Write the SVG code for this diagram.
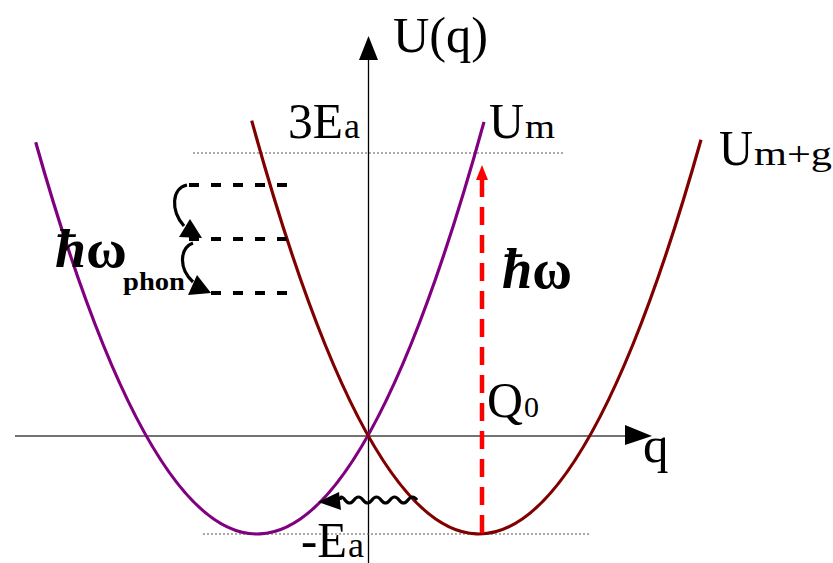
<svg xmlns="http://www.w3.org/2000/svg" width="833" height="563" viewBox="0 0 833 563">
<defs>
<style>
.t{font-family:"Liberation Serif","Times New Roman",serif;fill:#000}
.big{font-size:51px}
.sub{font-size:34px}
.dot{stroke:#555;stroke-width:1;stroke-dasharray:2,2;fill:none}
.lvl{stroke:#000;stroke-width:4;stroke-dasharray:10,12;fill:none}
.crv{stroke-width:3.2;fill:none}
.hb{font-weight:bold;font-style:italic}
.om{font-style:normal}
</style>
</defs>
<rect width="833" height="563" fill="#fff"/>
<g id="axes">
<line x1="15" y1="436" x2="628" y2="436" stroke="#444" stroke-width="1.3"/>
<polygon points="625,425 652,436 625,445" fill="#000"/>
<line x1="368.5" y1="563" x2="368.5" y2="58" stroke="#000" stroke-width="1.3"/>
<polygon points="359,60 368.5,36 378,60" fill="#000"/>
</g>
<g id="guides">
<line class="dot" x1="193" y1="153" x2="565" y2="153"/>
<line class="dot" x1="203" y1="534" x2="590" y2="534"/>
</g>
<g id="curve-Um">
<path class="crv" stroke="#800080" d="M35.7,142.2 Q259.85,935.9 484,121.8"/>
</g>
<g id="curve-Umg">
<path class="crv" stroke="#800000" d="M251.7,120.7 Q476.35,937.7 701,139.7"/>
</g>
<g id="levels">
<line class="lvl" x1="189" y1="185" x2="287" y2="185"/>
<line class="lvl" x1="189" y1="239" x2="287" y2="239"/>
<line class="lvl" x1="211" y1="293" x2="287" y2="293"/>
</g>
<g id="connectors">
<path class="crv" stroke="#000" d="M187,185 C172,188 170,210 184,226"/>
<polygon points="179,237 190,219 202,238" fill="#000"/>
<path class="crv" stroke="#000" d="M193,243 C180,248 178,268 193,282"/>
<polygon points="188,295 197,275 211,293" fill="#000"/>
<line x1="482" y1="533" x2="482" y2="178" stroke="#ff0000" stroke-width="4.5" stroke-dasharray="18,10"/>
<polygon points="476,180 482,165 488,180" fill="#ff0000"/>
<path class="crv" stroke="#000" stroke-width="3" d="M417,500 q-4.5,-6 -9,0 t-9,0 t-9,0 t-9,0 t-9,0 t-9,0 t-9,0 t-9,0 t-5,0"/>
<polygon points="318,502 339,492 341,510" fill="#000"/>
</g>
<g id="labels">
<text class="t big" x="393" y="52" textLength="95" lengthAdjust="spacingAndGlyphs">U(q)</text>
<text class="t big" x="288" y="138" textLength="55" lengthAdjust="spacingAndGlyphs">3E</text>
<text class="t" font-size="36" x="344" y="138">a</text>
<text class="t big" x="489" y="138" textLength="35" lengthAdjust="spacingAndGlyphs">U</text>
<text class="t sub" x="525" y="138" textLength="30" lengthAdjust="spacingAndGlyphs">m</text>
<text class="t big" x="719" y="165" textLength="34" lengthAdjust="spacingAndGlyphs">U</text>
<text class="t sub" x="754" y="165" textLength="78" lengthAdjust="spacingAndGlyphs">m+g</text>
<text class="t big" x="487" y="417" textLength="36" lengthAdjust="spacingAndGlyphs">Q</text>
<text class="t" font-size="30" x="524" y="417">0</text>
<text class="t big" x="643" y="462">q</text>
<text class="t big" x="301" y="557" textLength="46" lengthAdjust="spacingAndGlyphs">-E</text>
<text class="t" font-size="36" x="348" y="557">a</text>
<text class="t hb" x="55" y="267" font-size="54" textLength="72" lengthAdjust="spacingAndGlyphs">ħ<tspan class="om">ω</tspan></text>
<text class="t" x="123" y="290" font-size="26" font-weight="bold" textLength="62" lengthAdjust="spacingAndGlyphs">phon</text>
<text class="t hb" x="502" y="288" font-size="58" textLength="70" lengthAdjust="spacingAndGlyphs">ħ<tspan class="om">ω</tspan></text>
</g>
</svg>
